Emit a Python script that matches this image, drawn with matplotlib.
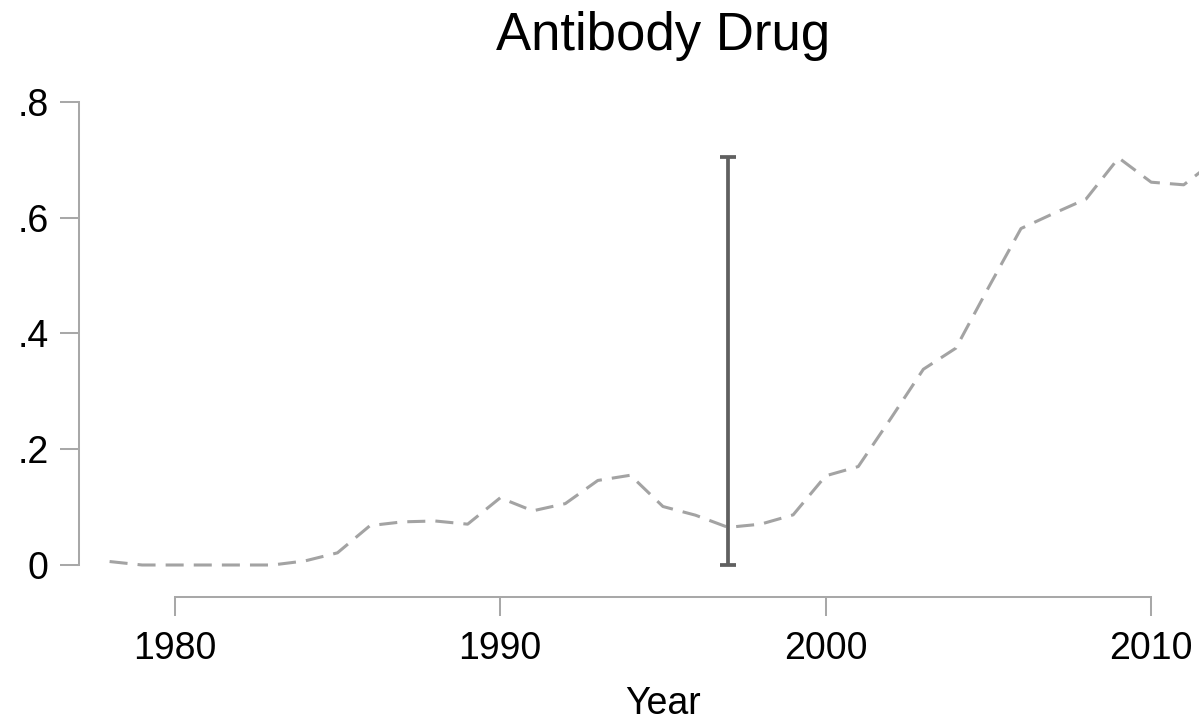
import matplotlib
matplotlib.use("Agg")
import matplotlib.pyplot as plt

years = list(range(1978, 2013))
values = [0.006, 0.0, 0.0, 0.0, 0.0, 0.0, 0.007, 0.021, 0.068, 0.0745,
          0.076, 0.0705, 0.116, 0.0935, 0.106, 0.146, 0.155, 0.101, 0.086, 0.065,
          0.0705, 0.0866, 0.154, 0.170, 0.253, 0.338, 0.3745, 0.479, 0.581, 0.607,
          0.632, 0.703, 0.661, 0.6565, 0.700]
bar_year = 1997
bar_low = 0.0
bar_high = 0.705
xticks = [1980, 1990, 2000, 2010]
yticks = [0, 0.2, 0.4, 0.6, 0.8]
yticklabels = ["0", ".2", ".4", ".6", ".8"]
title = "Antibody Drug"
xlabel = "Year"

plt.rcParams['font.family'] = ['Liberation Sans', 'DejaVu Sans']

W, H = 1199, 722
fig = plt.figure(figsize=(W / 100, H / 100), dpi=100)
left_px, right_px, top_px, bottom_px = 79.3, 1199, 101.7, 565
ax = fig.add_axes([left_px / W, 1 - bottom_px / H, (right_px - left_px) / W, (bottom_px - top_px) / H])

px_per_year = 32.55
x0 = 1980 - (174.7 - left_px) / px_per_year
ax.set_xlim(x0, x0 + (right_px - left_px) / px_per_year)
ax.set_ylim(0, 0.8)

spine_col = '#a8a8a8'
ax.plot(years, values, color='#a3a3a3', linewidth=2.2, linestyle=(0, (5.9, 3.3)), clip_on=False, zorder=2)
ax.errorbar([bar_year], [(bar_low + bar_high) / 2], yerr=[[(bar_high - bar_low) / 2], [(bar_high - bar_low) / 2]],
            fmt='none', ecolor='#606060', elinewidth=2.7, capsize=5.6, capthick=2.7, clip_on=False, zorder=3)

for s in ['top', 'right']:
    ax.spines[s].set_visible(False)
for s in ['left', 'bottom']:
    ax.spines[s].set_color(spine_col)
    ax.spines[s].set_linewidth(1.45)
ax.spines['left'].set_bounds(0, 0.8)
ax.spines['bottom'].set_bounds(1980, 2010)
ax.spines['bottom'].set_position(('outward', (597.3 - bottom_px) * 0.72))

ax.set_xticks(xticks)
ax.set_xticklabels([str(x) for x in xticks])
ax.set_yticks(yticks)
ax.set_yticklabels(yticklabels)
ax.tick_params(axis='both', length=13.5, width=1.45, color=spine_col, labelsize=27, labelcolor='black')
ax.tick_params(axis='x', pad=10.5)
ax.tick_params(axis='y', pad=8.5)
ax.patch.set_visible(False)

fig.text(663 / W, 1 - 50 / H, title, ha='center', va='baseline', fontsize=38)
fig.text(663 / W, 1 - 714 / H, xlabel, ha='center', va='baseline', fontsize=27)

fig.savefig('out.png', dpi=100, facecolor='white')
